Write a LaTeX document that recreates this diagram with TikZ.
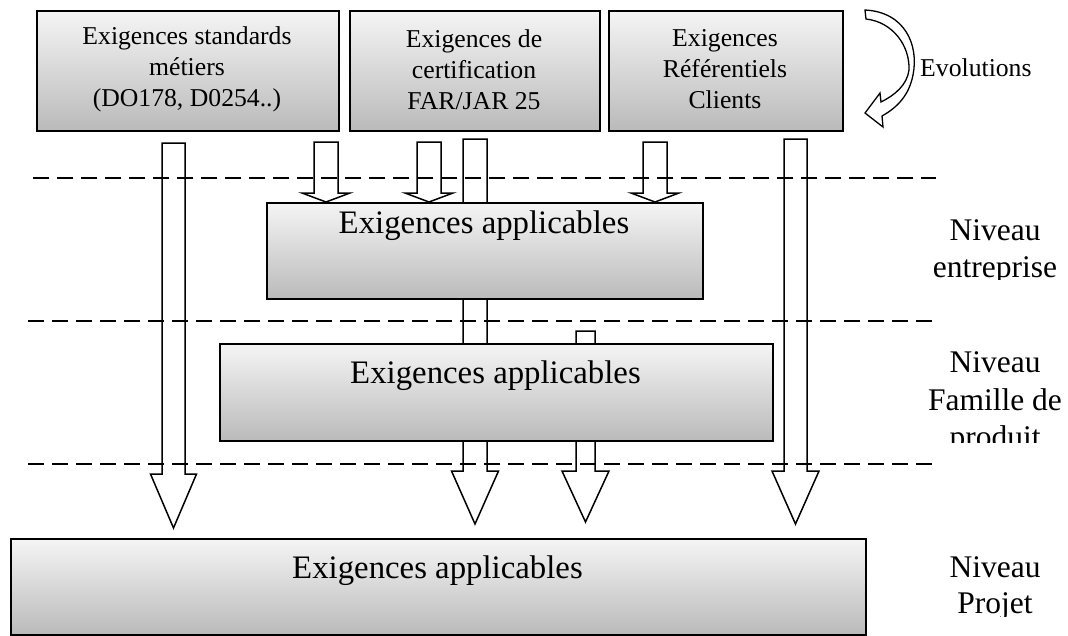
\documentclass[tikz,border=0pt]{standalone}
\usepackage{fontspec}
\setmainfont{Liberation Serif}
\usetikzlibrary{calc,backgrounds}

% hollow block arrow: #1 start, #2 tip, #3 head length, #4 half shaft width, #5 half head width
\newcommand\hollowarrow[5]{%
  \draw[hollow] let \p1=(#1), \p2=(#2) in
    (\x1-#4pt,\y1) -- (\x1+#4pt,\y1) -- (\x1+#4pt,\y2+#3pt) -- (\x1+#5pt,\y2+#3pt)
    -- (\x1,\y2) -- (\x1-#5pt,\y2+#3pt) -- (\x1-#4pt,\y2+#3pt) -- cycle;}

\tikzset{
  reqbox/.style={draw=black, line width=1.6pt, top color=black!4, bottom color=black!27,
                 inner sep=0pt, anchor=north west},
  boxtext/.style={font=\fontsize{25.7}{31}\selectfont, align=center, inner sep=0pt},
  bigtext/.style={font=\fontsize{32.8}{38}\selectfont, inner sep=0pt, anchor=base},
  leveltext/.style={font=\fontsize{31.5}{37}\selectfont, inner sep=0pt, anchor=base},
  levelline/.style={dash pattern=on 16pt off 8pt, line width=1.5pt},
  hollow/.style={draw=black, line width=1.5pt, line join=miter},
}

\begin{document}
\begin{tikzpicture}[x=1pt,y=-1pt]
\useasboundingbox (0,0) rectangle (1068,635);

% source requirement boxes
\node[reqbox, minimum width=302pt, minimum height=120pt] (std) at (36,10) {};
\node[reqbox, minimum width=250pt, minimum height=120pt] (cert) at (349,10) {};
\node[reqbox, minimum width=234pt, minimum height=120pt] (cli) at (608,10) {};
\node[boxtext] (stdtxt) at (187,69.5) {Exigences standards\\métiers\\(DO178, D0254..)};
\node[boxtext] (certtxt) at (474,69.5) {Exigences de\\certification\\FAR/JAR 25};
\node[boxtext] (clitxt) at (725,69.5) {Exigences\\Référentiels\\Clients};

% applicable requirements per level
\node[reqbox, minimum width=436pt, minimum height=96pt] (ent) at (266,202) {};
\node[reqbox, minimum width=553pt, minimum height=97pt] (fam) at (219,343) {};
\node[reqbox, minimum width=855pt, minimum height=96pt] (proj) at (10,538) {};
\node[bigtext] (enttxt) at (484,233) {Exigences applicables};
\node[bigtext] (famtxt) at (495.5,383) {Exigences applicables};
\node[bigtext] (projtxt) at (437.5,578) {Exigences applicables};

% arrow and level separator end points
\coordinate (a1s) at (173.5,143);  \coordinate (a1e) at (173.5,528);
\coordinate (a2s) at (326,142);
\coordinate (a3s) at (429,142);
\coordinate (a4s) at (475,139);    \coordinate (a4e) at (475,524);
\coordinate (a5s) at (655,142);
\coordinate (a6s) at (795.5,139);  \coordinate (a6e) at (795.5,524);
\coordinate (a7s) at (585.5,331);  \coordinate (a7e) at (585.5,522);
\coordinate (d1l) at (33,178);  \coordinate (d1r) at (936,178);
\coordinate (d2l) at (28,321);  \coordinate (d2r) at (932,321);
\coordinate (d3l) at (28,464);  \coordinate (d3r) at (932,464);

\begin{scope}[on background layer]
  \hollowarrow{a1s}{a1e}{54}{11.5}{23}
  \hollowarrow{a2s}{a2s |- ent.north}{9}{12}{24}
  \hollowarrow{a3s}{a3s |- ent.north}{9}{12}{24}
  \hollowarrow{a4s}{a4e}{53}{12}{23.5}
  \hollowarrow{a5s}{a5s |- ent.north}{9}{12}{24}
  \hollowarrow{a6s}{a6e}{53}{11.5}{23.5}
  \hollowarrow{a7s}{a7e}{51}{9.5}{23.5}
  \draw[levelline] (d1l) -- (d1r);
  \draw[levelline] (d2l) -- (d2r);
  \draw[levelline] (d3l) -- (d3r);
\end{scope}

% curved "Evolutions" arrow
\draw[hollow, line width=1.3pt]
  (865,10) .. controls (905,12) and (919,45) .. (913,75)
  .. controls (909,95) and (898,107) .. (882,116)
  -- (883,127) -- (865,113) -- (880,93) -- (881,102)
  .. controls (895,95) and (907,85) .. (909,70)
  .. controls (910,46) and (893,22) .. (866,19) -- cycle;
\node[boxtext, anchor=base west] (evo) at (920,76) {Evolutions};

% level labels, cut off at the bottom of their frames
\begin{scope}
  \clip (900,200) rectangle (1068,279);
  \node[leveltext] (l1a) at (995,240) {Niveau};
  \node[leveltext] (l1b) at (995,277) {entreprise};
\end{scope}
\begin{scope}
  \clip (900,330) rectangle (1068,442);
  \node[leveltext] (l2a) at (995,372) {Niveau};
  \node[leveltext] (l2b) at (995,410) {Famille de};
  \node[leveltext] (l2c) at (995,447) {produit};
\end{scope}
\begin{scope}
  \clip (900,540) rectangle (1068,616);
  \node[leveltext] (l3a) at (995,577) {Niveau};
  \node[leveltext] (l3b) at (995,613) {Projet};
\end{scope}
\end{tikzpicture}
\end{document}
